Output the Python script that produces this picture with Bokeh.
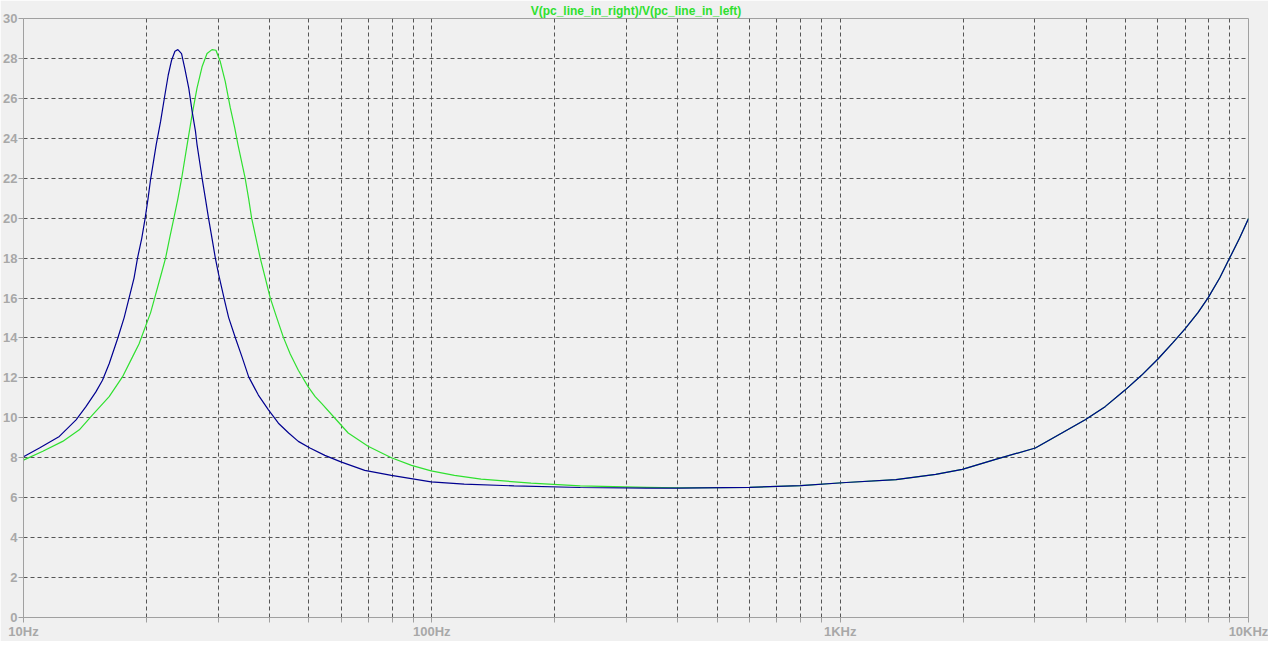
from bokeh.plotting import figure
from bokeh.models import FixedTicker, Range1d
from bokeh.embed import file_html
from bokeh.resources import INLINE

# ---- data ----
title_text = "V(pc_line_in_right)/V(pc_line_in_left)"

x_major = [10, 100, 1000, 10000]
x_major_labels = ["10Hz", "100Hz", "1KHz", "10KHz"]
x_minor = [20, 30, 40, 50, 60, 70, 80, 90,
           200, 300, 400, 500, 600, 700, 800, 900,
           2000, 3000, 4000, 5000, 6000, 7000, 8000, 9000]
y_ticks = [0, 2, 4, 6, 8, 10, 12, 14, 16, 18, 20, 22, 24, 26, 28, 30]

blue_freq = [10, 10.94, 12.24, 13.45, 14.22, 15.04, 15.61, 16.21, 16.99, 17.64,
             18.14, 18.65, 19.02, 19.48, 19.85, 20.18, 20.48, 21.14, 21.67, 22.2,
             22.62, 23.05, 23.49, 23.88, 24.38, 24.83, 25.4, 25.88, 26.37, 26.6,
             27.4, 27.9, 28.4, 28.95, 29.5, 30.06, 31.1, 31.8, 33.1, 34.3,
             35.6, 37.6, 39.8, 42.1, 44.6, 47.1, 50.3, 54.7, 60.1, 68.5,
             79.6, 99.6, 120, 159, 231, 336, 400, 600, 800, 1034,
             1370, 1714, 1991, 2402, 3006, 3491, 3982, 4455, 4985, 5470,
             6010, 6538, 6982, 7521, 7960, 8500, 8990, 9506, 10000]
blue_gain = [8.05, 8.49, 9.07, 9.90, 10.56, 11.30, 11.88, 12.71, 13.95, 15.02,
             16.01, 17.0, 18.0, 18.99, 19.98, 20.97, 21.96, 23.70, 24.86, 26.18,
             27.17, 27.91, 28.36, 28.44, 28.24, 27.5, 26.5, 25.35, 24.36, 23.7,
             21.96, 20.97, 19.98, 18.99, 18.0, 17.17, 15.85, 15.02, 13.95, 13.04,
             12.05, 11.14, 10.40, 9.73, 9.24, 8.82, 8.49, 8.12, 7.78, 7.37,
             7.12, 6.79, 6.68, 6.59, 6.51, 6.48, 6.48, 6.52, 6.6, 6.76,
             6.91, 7.17, 7.42, 7.92, 8.49, 9.24, 9.9, 10.56, 11.39, 12.13,
             12.96, 13.78, 14.44, 15.27, 16.01, 17.0, 18.0, 18.99, 19.98]

green_freq = [10, 11.15, 12.47, 13.7, 14.76, 16.21, 17.47, 18.48, 19.18, 20.48,
              21.07, 21.67, 22.28, 22.79, 23.35, 23.88, 24.4, 25.17, 25.88, 26.6,
              27.37, 28.15, 28.95, 29.6, 30.34, 31.2, 32.1, 32.9, 33.5, 34.9,
              35.6, 36.2, 37.1, 38.0, 39.1, 40.2, 41.7, 43.3, 45, 47.1,
              49.8, 51.8, 53.7, 57.9, 62.4, 69.8, 79.6, 89.2, 99.6, 113.6,
              132, 175, 231, 336, 400, 600, 800, 1034, 1370, 1714,
              1991, 2402, 3006, 3491, 3982, 4455, 4985, 5470, 6010, 6538,
              6982, 7521, 7960, 8500, 8990, 9506, 10000]
green_gain = [7.88, 8.33, 8.82, 9.40, 10.15, 11.06, 12.05, 13.04, 13.7, 15.27,
              16.18, 17.09, 18.0, 18.99, 20.0, 20.97, 22.0, 23.7, 25.19, 26.51,
              27.58, 28.25, 28.44, 28.41, 27.83, 26.84, 25.52, 24.53, 23.7, 22.0,
              20.97, 20.0, 18.99, 18.0, 17.0, 16.01, 15.02, 14.03, 13.2, 12.38,
              11.55, 11.06, 10.72, 9.98, 9.24, 8.58, 8.0, 7.62, 7.34, 7.12,
              6.93, 6.73, 6.59, 6.52, 6.49, 6.52, 6.6, 6.76, 6.91, 7.17,
              7.42, 7.92, 8.49, 9.24, 9.9, 10.56, 11.39, 12.13, 12.96, 13.78,
              14.44, 15.27, 16.01, 17.0, 18.0, 18.99, 19.98]

# ---- styling ----
BG = "#f0f0f0"
AXIS = "#a0a0a0"
GRID = "#555555"
LABEL = "#a8a8a8"
FONT = "Liberation Sans"

p = figure(width=1268, height=641, x_axis_type="log",
           x_range=Range1d(10, 10000), y_range=Range1d(0, 30),
           output_backend="svg", toolbar_location=None,
           background_fill_color=BG, border_fill_color=BG,
           min_border_left=2, min_border_right=20, min_border_top=0,
           min_border_bottom=0, title=title_text)

p.title.align = "center"
p.title.text_color = "#2fe02f"
p.title.text_font = FONT
p.title.text_font_size = "12px"
p.title.text_font_style = "bold"
p.title.standoff = 2
p.title.offset = 0

p.outline_line_color = AXIS
p.outline_line_width = 1
p.outline_line_alpha = 1

p.xaxis.ticker = FixedTicker(ticks=x_major, minor_ticks=x_minor)
p.xaxis.major_label_overrides = {t: s for t, s in zip(x_major, x_major_labels)}
p.yaxis.ticker = FixedTicker(ticks=y_ticks)

for ax in (p.xaxis, p.yaxis):
    ax.axis_line_color = AXIS
    ax.major_tick_line_color = AXIS
    ax.minor_tick_line_color = AXIS
    ax.major_tick_in = 0
    ax.major_tick_out = 5
    ax.minor_tick_in = 0
    ax.minor_tick_out = 5
    ax.major_label_text_color = LABEL
    ax.major_label_text_font = FONT
    ax.major_label_text_font_size = "13px"
    ax.major_label_text_font_style = "bold"
    ax.major_label_standoff = 1

p.yaxis.minor_tick_line_color = None

p.xgrid.grid_line_color = GRID
p.xgrid.grid_line_dash = "4 3"
p.xgrid.minor_grid_line_color = GRID
p.xgrid.minor_grid_line_dash = "4 3"
p.ygrid.grid_line_color = GRID
p.ygrid.grid_line_dash = "4 3"

p.line(green_freq, green_gain, line_color="#2fe02f", line_width=1.2)
p.line(blue_freq, blue_gain, line_color="#000090", line_width=1.2)

open("out.html", "w").write(file_html(p, INLINE))
